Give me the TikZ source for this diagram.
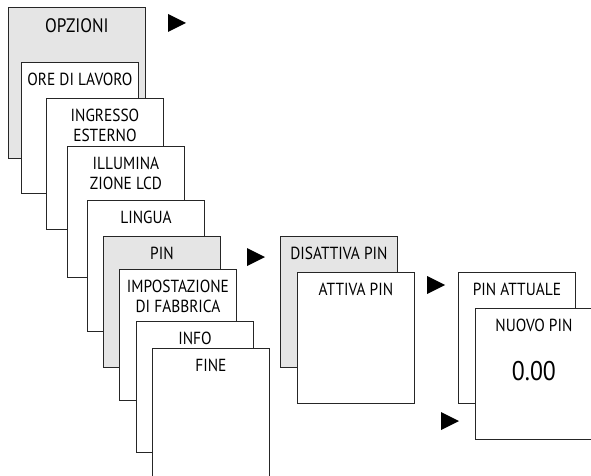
\documentclass[tikz,border=0pt]{standalone}
\usepackage{fontspec}
\setmainfont{PT Sans}[FakeStretch=0.88]

\begin{document}
\begin{tikzpicture}[x=1pt,y=-1pt,
  menu/.style={draw=black!85,line width=0.9pt,fill=white,anchor=north west,
    minimum width=117pt,minimum height=131pt,inner sep=0pt},
  sel/.style={menu,fill=black!10},
  txt/.style={anchor=north,inner sep=0pt,align=center,font=\fontsize{17.5}{20.5}\selectfont}]
\useasboundingbox (0,0) rectangle (591,476);
% main menu
\node[sel,minimum width=137pt,minimum height=151pt] (opz) at (8,7) {};
\node[txt,font=\fontsize{19.5}{20}\selectfont] (opzt) at ([yshift=-11pt]opz.north) {OPZIONI};
\node[menu] (ore) at (21,62) {};
\node[txt] (oret) at ([yshift=-10.5pt]ore.north) {ORE DI LAVORO};
\node[menu] (ing) at (46,98) {};
\node[txt] (ingt) at ([yshift=-10.5pt]ing.north) {INGRESSO\\ESTERNO};
\node[menu] (ill) at (67,146) {};
\node[txt] (illt) at ([yshift=-10.5pt]ill.north) {ILLUMINA\\ZIONE LCD};
\node[menu] (lin) at (87,200) {};
\node[txt] (lint) at ([yshift=-10.5pt]lin.north) {LINGUA};
\node[sel] (pin) at (103,236) {};
\node[txt] (pint) at ([yshift=-10.5pt]pin.north) {PIN};
\node[menu] (imp) at (119,269) {};
\node[txt] (impt) at ([yshift=-10.5pt]imp.north) {IMPOSTAZIONE\\DI FABBRICA};
\node[menu] (inf) at (136,321) {};
\node[txt] (inft) at ([yshift=-10.5pt]inf.north) {INFO};
\node[menu] (fin) at (152,348) {};
\node[txt] (fint) at ([yshift=-10.5pt]fin.north) {FINE};
% pin submenu
\node[sel] (dis) at (280,236) {};
\node[txt] (dist) at ([yshift=-10.5pt]dis.north) {DISATTIVA PIN};
\node[menu] (att) at (297,272) {};
\node[txt] (attt) at ([yshift=-10.5pt]att.north) {ATTIVA PIN};
\node[menu] (act) at (458,272) {};
\node[txt] (actt) at ([yshift=-10.5pt]act.north) {PIN ATTUALE};
\node[menu] (nuo) at (475,308) {};
\node[txt] (nuot) at ([yshift=-10.5pt]nuo.north) {NUOVO PIN};
\node[txt,font=\fontsize{27}{27}\selectfont] (val) at ([yshift=-53pt]nuo.north) {0.00};
% arrows
\foreach \x/\y in {168/23,247/257,427/285,441/421}
  \fill (\x,\y-9) -- (\x+18,\y) -- (\x,\y+9) -- cycle;
\end{tikzpicture}
\end{document}
